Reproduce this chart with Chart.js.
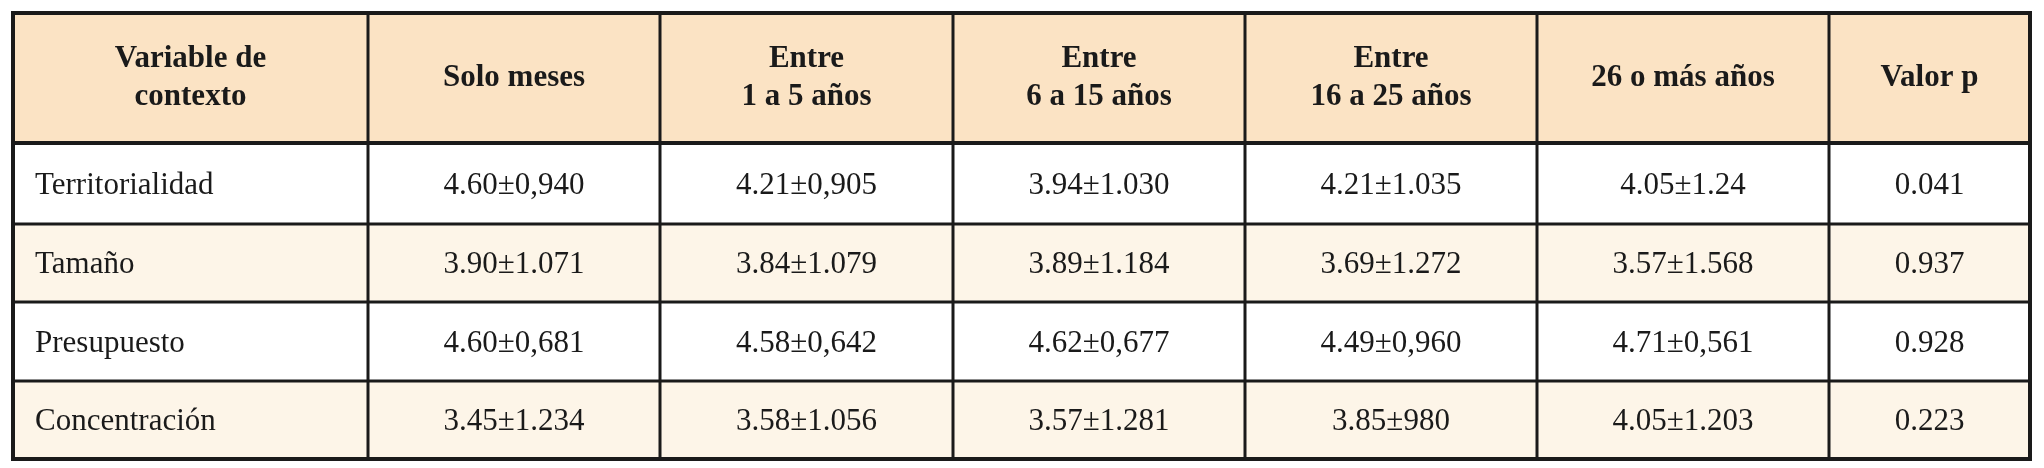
<!DOCTYPE html>
<html><head><meta charset="utf-8">
<script src="https://cdn.jsdelivr.net/npm/chart.js@4"></script>
<style>html,body{margin:0;padding:0;background:#fff}#c{display:block}</style>
</head><body>
<div style="width:2044px;height:468px"><canvas id="c"></canvas></div>
<script>
const headers = [["Variable de","contexto"],["Solo meses"],["Entre","1 a 5 años"],["Entre","6 a 15 años"],["Entre","16 a 25 años"],["26 o más años"],["Valor p"]];
const rowLabels = ["Territorialidad","Tamaño","Presupuesto","Concentración"];
const soloMeses = ["4.60±0,940","3.90±1.071","4.60±0,681","3.45±1.234"];
const entre1a5 = ["4.21±0,905","3.84±1.079","4.58±0,642","3.58±1.056"];
const entre6a15 = ["3.94±1.030","3.89±1.184","4.62±0,677","3.57±1.281"];
const entre16a25 = ["4.21±1.035","3.69±1.272","4.49±0,960","3.85±980"];
const mas26 = ["4.05±1.24","3.57±1.568","4.71±0,561","4.05±1.203"];
const valorP = ["0.041","0.937","0.928","0.223"];

const colW = [355,292,293,292,292,292,201];
const rowH = [130,81,78,79,78];
const totalW = colW.reduce((a,b)=>a+b,0), totalH = rowH.reduce((a,b)=>a+b,0);
const cols = [rowLabels, soloMeses, entre1a5, entre6a15, entre16a25, mas26, valorP];

const tablePlugin = {
  id:'table',
  afterDraw(chart){
    const ctx = chart.ctx, xs = chart.scales.x, ys = chart.scales.y;
    const xb=[0]; colW.forEach(w=>xb.push(xb[xb.length-1]+w));
    const yb=[0]; rowH.forEach(h=>yb.push(yb[yb.length-1]+h));
    const X=v=>xs.getPixelForValue(v), Y=v=>ys.getPixelForValue(v);
    ctx.save();
    for(let r=0;r<rowH.length;r++){
      ctx.fillStyle = r===0 ? '#fbe3c4' : (r%2===0 ? '#fdf5e8' : '#ffffff');
      ctx.fillRect(X(0),Y(yb[r]),X(totalW)-X(0),Y(yb[r+1])-Y(yb[r]));
    }
    ctx.fillStyle='#1a1a1a'; ctx.textBaseline='middle';
    ctx.font='bold 31px "Liberation Serif", serif'; ctx.textAlign='center';
    headers.forEach((h,c)=>{
      const cx=(X(xb[c])+X(xb[c+1]))/2, cy=(Y(yb[0])+Y(yb[1]))/2;
      const lh=38;
      h.forEach((t,i)=>ctx.fillText(t,cx,cy+(i-(h.length-1)/2)*lh));
    });
    ctx.font='31px "Liberation Serif", serif';
    cols.forEach((col,c)=>{
      col.forEach((t,r)=>{
        const cy=(Y(yb[r+1])+Y(yb[r+2]))/2+2;
        if(c===0){ctx.textAlign='left';ctx.fillText(t,X(xb[0])+22,cy);}
        else {ctx.textAlign='center';ctx.fillText(t,(X(xb[c])+X(xb[c+1]))/2,cy);}
      });
    });
    ctx.strokeStyle='#1a1a1a';
    ctx.lineWidth=3;
    for(let r=2;r<yb.length-1;r++){ctx.beginPath();ctx.moveTo(X(0),Y(yb[r]));ctx.lineTo(X(totalW),Y(yb[r]));ctx.stroke();}
    for(let c=1;c<xb.length-1;c++){ctx.beginPath();ctx.moveTo(X(xb[c]),Y(0));ctx.lineTo(X(xb[c]),Y(totalH));ctx.stroke();}
    ctx.lineWidth=4;
    ctx.beginPath();ctx.moveTo(X(0),Y(yb[1]));ctx.lineTo(X(totalW),Y(yb[1]));ctx.stroke();
    ctx.strokeRect(X(0),Y(0),X(totalW)-X(0),Y(totalH)-Y(0));
    ctx.restore();
  }
};

new Chart(document.getElementById('c'),{
  type:'scatter',
  data:{datasets:[{data:[]}]},
  options:{
    responsive:true, maintainAspectRatio:false, animation:false,
    layout:{padding:{left:13,right:14,top:13,bottom:9}},
    plugins:{legend:{display:false},tooltip:{enabled:false}},
    scales:{
      x:{type:'linear',min:0,max:totalW,display:false,offset:false},
      y:{type:'linear',min:0,max:totalH,reverse:true,display:false,offset:false}
    }
  },
  plugins:[tablePlugin]
});
</script>
</body></html>
